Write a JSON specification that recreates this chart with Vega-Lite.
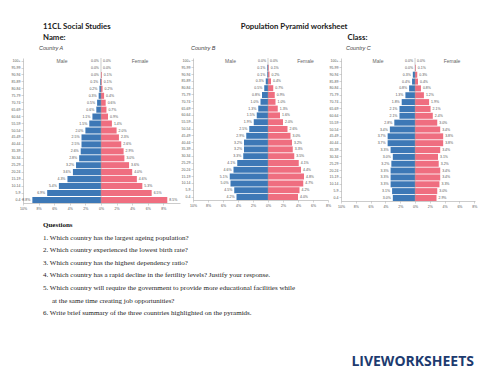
{
  "$schema": "https://vega.github.io/schema/vega-lite/v6.json",
  "background": "white",
  "padding": {"left": 11, "top": 0, "right": 0, "bottom": 0},
  "config": {
    "view": {"stroke": null},
    "axisY": {"minExtent": 0},
    "axisX": {"minExtent": 0, "labelOverlap": false, "labelFlush": false, "tickCount": 12}
  },
  "datasets": {
    "pyrA": [
      {"age":"0-4","sex":"Male","pct":8.8},{"age":"5-9","sex":"Male","pct":6.9},{"age":"10-14","sex":"Male","pct":5.4},{"age":"15-19","sex":"Male","pct":4.3},{"age":"20-24","sex":"Male","pct":3.6},{"age":"25-29","sex":"Male","pct":3.2},{"age":"30-34","sex":"Male","pct":2.8},{"age":"35-39","sex":"Male","pct":2.6},{"age":"40-44","sex":"Male","pct":2.5},{"age":"45-49","sex":"Male","pct":2.5},{"age":"50-54","sex":"Male","pct":2.0},{"age":"55-59","sex":"Male","pct":1.5},{"age":"60-64","sex":"Male","pct":1.1},{"age":"65-69","sex":"Male","pct":0.6},{"age":"70-74","sex":"Male","pct":0.5},{"age":"75-79","sex":"Male","pct":0.3},{"age":"80-84","sex":"Male","pct":0.2},{"age":"85-89","sex":"Male","pct":0.1},{"age":"90-94","sex":"Male","pct":0.0},{"age":"95-99","sex":"Male","pct":0.0},{"age":"100+","sex":"Male","pct":0.0},
      {"age":"0-4","sex":"Female","pct":8.5},{"age":"5-9","sex":"Female","pct":6.5},{"age":"10-14","sex":"Female","pct":5.3},{"age":"15-19","sex":"Female","pct":4.6},{"age":"20-24","sex":"Female","pct":4.0},{"age":"25-29","sex":"Female","pct":3.6},{"age":"30-34","sex":"Female","pct":3.0},{"age":"35-39","sex":"Female","pct":2.9},{"age":"40-44","sex":"Female","pct":2.6},{"age":"45-49","sex":"Female","pct":2.3},{"age":"50-54","sex":"Female","pct":2.0},{"age":"55-59","sex":"Female","pct":1.4},{"age":"60-64","sex":"Female","pct":0.9},{"age":"65-69","sex":"Female","pct":0.7},{"age":"70-74","sex":"Female","pct":0.6},{"age":"75-79","sex":"Female","pct":0.4},{"age":"80-84","sex":"Female","pct":0.2},{"age":"85-89","sex":"Female","pct":0.1},{"age":"90-94","sex":"Female","pct":0.1},{"age":"95-99","sex":"Female","pct":0.0},{"age":"100+","sex":"Female","pct":0.0}
    ],
    "pyrB": [
      {"age":"0-4","sex":"Male","pct":4.2},{"age":"5-9","sex":"Male","pct":4.5},{"age":"10-14","sex":"Male","pct":5.0},{"age":"15-19","sex":"Male","pct":5.1},{"age":"20-24","sex":"Male","pct":4.6},{"age":"25-29","sex":"Male","pct":4.1},{"age":"30-34","sex":"Male","pct":3.3},{"age":"35-39","sex":"Male","pct":3.2},{"age":"40-44","sex":"Male","pct":3.2},{"age":"45-49","sex":"Male","pct":2.9},{"age":"50-54","sex":"Male","pct":2.5},{"age":"55-59","sex":"Male","pct":1.9},{"age":"60-64","sex":"Male","pct":1.5},{"age":"65-69","sex":"Male","pct":1.3},{"age":"70-74","sex":"Male","pct":1.0},{"age":"75-79","sex":"Male","pct":0.8},{"age":"80-84","sex":"Male","pct":0.5},{"age":"85-89","sex":"Male","pct":0.3},{"age":"90-94","sex":"Male","pct":0.1},{"age":"95-99","sex":"Male","pct":0.1},{"age":"100+","sex":"Male","pct":0.0},
      {"age":"0-4","sex":"Female","pct":4.0},{"age":"5-9","sex":"Female","pct":4.2},{"age":"10-14","sex":"Female","pct":4.7},{"age":"15-19","sex":"Female","pct":4.8},{"age":"20-24","sex":"Female","pct":4.4},{"age":"25-29","sex":"Female","pct":4.1},{"age":"30-34","sex":"Female","pct":3.5},{"age":"35-39","sex":"Female","pct":3.3},{"age":"40-44","sex":"Female","pct":3.2},{"age":"45-49","sex":"Female","pct":3.0},{"age":"50-54","sex":"Female","pct":2.6},{"age":"55-59","sex":"Female","pct":2.0},{"age":"60-64","sex":"Female","pct":1.6},{"age":"65-69","sex":"Female","pct":1.3},{"age":"70-74","sex":"Female","pct":1.0},{"age":"75-79","sex":"Female","pct":0.9},{"age":"80-84","sex":"Female","pct":0.7},{"age":"85-89","sex":"Female","pct":0.4},{"age":"90-94","sex":"Female","pct":0.2},{"age":"95-99","sex":"Female","pct":0.1},{"age":"100+","sex":"Female","pct":0.0}
    ],
    "pyrC": [
      {"age":"0-4","sex":"Male","pct":3.0},{"age":"5-9","sex":"Male","pct":3.1},{"age":"10-14","sex":"Male","pct":3.3},{"age":"15-19","sex":"Male","pct":3.3},{"age":"20-24","sex":"Male","pct":3.3},{"age":"25-29","sex":"Male","pct":3.2},{"age":"30-34","sex":"Male","pct":3.0},{"age":"35-39","sex":"Male","pct":3.3},{"age":"40-44","sex":"Male","pct":3.7},{"age":"45-49","sex":"Male","pct":3.7},{"age":"50-54","sex":"Male","pct":3.4},{"age":"55-59","sex":"Male","pct":2.8},{"age":"60-64","sex":"Male","pct":2.1},{"age":"65-69","sex":"Male","pct":2.1},{"age":"70-74","sex":"Male","pct":1.8},{"age":"75-79","sex":"Male","pct":1.3},{"age":"80-84","sex":"Male","pct":0.8},{"age":"85-89","sex":"Male","pct":0.4},{"age":"90-94","sex":"Male","pct":0.3},{"age":"95-99","sex":"Male","pct":0.0},{"age":"100+","sex":"Male","pct":0.0},
      {"age":"0-4","sex":"Female","pct":2.9},{"age":"5-9","sex":"Female","pct":3.0},{"age":"10-14","sex":"Female","pct":3.3},{"age":"15-19","sex":"Female","pct":3.4},{"age":"20-24","sex":"Female","pct":3.4},{"age":"25-29","sex":"Female","pct":3.2},{"age":"30-34","sex":"Female","pct":3.1},{"age":"35-39","sex":"Female","pct":3.4},{"age":"40-44","sex":"Female","pct":3.8},{"age":"45-49","sex":"Female","pct":3.8},{"age":"50-54","sex":"Female","pct":3.4},{"age":"55-59","sex":"Female","pct":3.0},{"age":"60-64","sex":"Female","pct":2.4},{"age":"65-69","sex":"Female","pct":2.1},{"age":"70-74","sex":"Female","pct":1.9},{"age":"75-79","sex":"Female","pct":1.2},{"age":"80-84","sex":"Female","pct":0.8},{"age":"85-89","sex":"Female","pct":0.4},{"age":"90-94","sex":"Female","pct":0.3},{"age":"95-99","sex":"Female","pct":0.1},{"age":"100+","sex":"Female","pct":0.0}
    ]
  },
  "vconcat": [
    {
      "width": 456, "height": 45.5,
      "layer": [
        {
          "data": {"values": [
            {"slot":"left","line":"1","text":"11CL Social Studies"},
            {"slot":"left","line":"2","text":"Name:"},
            {"slot":"right","line":"2","text":"Class:"}
          ]},
          "mark": {"type":"text","align":"left","baseline":"middle","font":"Lato","fontSize":7.8,"fontWeight":"bold","color":"#1a1a1a"},
          "encoding": {
            "x": {"field":"slot","type":"nominal","scale":{"type":"point","domain":["left","right"],"range":[20,324.5],"padding":0},"axis":null},
            "y": {"field":"line","type":"nominal","scale":{"type":"point","domain":["1","2"],"range":[27,37.5],"padding":0},"axis":null},
            "text": {"field":"text"}
          }
        },
        {
          "data": {"values": [{"slot":"right","line":"1","text":"Population Pyramid worksheet"}]},
          "mark": {"type":"text","align":"right","baseline":"middle","font":"Lato","fontSize":7.8,"fontWeight":"bold","color":"#1a1a1a"},
          "encoding": {
            "x": {"field":"slot","type":"nominal","scale":{"type":"point","domain":["left","right"],"range":[20,324.5],"padding":0},"axis":null},
            "y": {"field":"line","type":"nominal","scale":{"type":"point","domain":["1","2"],"range":[27,37.5],"padding":0},"axis":null},
            "text": {"field":"text"}
          }
        }
      ]
    },
    {
      "hconcat": [
        {
          "width": 157, "height": 145,
          "title": {"text":"Country A","anchor":"start","frame":"group","dx":16,"offset":6,"fontSize":5.5,"fontStyle":"italic","fontWeight":"normal","color":"#444","font":"Liberation Sans"},
          "data": {"name":"pyrA"},
          "transform": [
            {"calculate":"datum.sex === 'Male' ? -datum.pct : datum.pct","as":"signed"},
            {"calculate":"format(datum.pct, '.1f') + '%'","as":"label"}
          ],
          "layer": [
            {
              "mark": {"type":"bar"},
              "encoding": {
                "y": {"field":"age","type":"ordinal","scale":{"domain":["100+","95-99","90-94","85-89","80-84","75-79","70-74","65-69","60-64","55-59","50-54","45-49","40-44","35-39","30-34","25-29","20-24","15-19","10-14","5-9","0-4"],"paddingInner":0.12,"paddingOuter":0},"axis":{"title":null,"labelFontSize":3.5,"labelColor":"#555","labelFont":"Liberation Sans","tickSize":2,"labelPadding":1,"tickColor":"#aaa","domainColor":"#999","domainWidth":0.5,"tickWidth":0.5}},
                "x": {"field":"signed","type":"quantitative","scale":{"domain":[-10,10.13],"nice":false},"axis":{"title":null,"values":[-10,-8,-6,-4,-2,0,2,4,6,8],"tickCount":12,"labelExpr":"abs(datum.value) + '%'","labelOverlap":false,"labelFlush":false,"labelFontSize":3.5,"labelColor":"#555","labelFont":"Liberation Sans","tickSize":2,"labelPadding":1,"tickColor":"#aaa","domainColor":"#999","domainWidth":0.5,"tickWidth":0.5,"grid":false}},
                "color": {"field":"sex","type":"nominal","scale":{"domain":["Male","Female"],"range":["#3d78b6","#ef6e80"]},"legend":null}
              }
            },
            {
              "transform": [{"filter":"datum.sex === 'Male'"}],
              "mark": {"type":"text","align":"right","baseline":"middle","dx":-2,"fontSize":3.5,"color":"#555","font":"Liberation Sans"},
              "encoding": {"y": {"field":"age","type":"ordinal"},"x": {"field":"signed","type":"quantitative"},"text": {"field":"label"}}
            },
            {
              "transform": [{"filter":"datum.sex === 'Female'"}],
              "mark": {"type":"text","align":"left","baseline":"middle","dx":2,"fontSize":3.5,"color":"#555","font":"Liberation Sans"},
              "encoding": {"y": {"field":"age","type":"ordinal"},"x": {"field":"signed","type":"quantitative"},"text": {"field":"label"}}
            },
            {
              "data": {"values":[{}]},
              "mark": {"type":"rule","color":"#999","strokeWidth":0.5},
              "encoding": {"x": {"datum":0,"type":"quantitative"}}
            },
            {
              "data": {"values":[{}]},
              "mark": {"type":"text","fontSize":5,"color":"#666","font":"Liberation Sans","baseline":"middle"},
              "encoding": {"x": {"datum":-5,"type":"quantitative"},"y": {"datum":"100+","type":"ordinal"},"text": {"value":"Male"}}
            },
            {
              "data": {"values":[{}]},
              "mark": {"type":"text","fontSize":5,"color":"#666","font":"Liberation Sans","baseline":"middle"},
              "encoding": {"x": {"datum":5,"type":"quantitative"},"y": {"datum":"100+","type":"ordinal"},"text": {"value":"Female"}}
            }
          ]
        },
        {
          "width": 135, "height": 142,
          "title": {"text":"Country B","anchor":"start","frame":"group","dx":-2,"offset":6,"fontSize":5.5,"fontStyle":"italic","fontWeight":"normal","color":"#444","font":"Liberation Sans"},
          "data": {"name":"pyrB"},
          "transform": [
            {"calculate":"datum.sex === 'Male' ? -datum.pct : datum.pct","as":"signed"},
            {"calculate":"format(datum.pct, '.1f') + '%'","as":"label"}
          ],
          "layer": [
            {
              "mark": {"type":"bar"},
              "encoding": {
                "y": {"field":"age","type":"ordinal","scale":{"domain":["100+","95-99","90-94","85-89","80-84","75-79","70-74","65-69","60-64","55-59","50-54","45-49","40-44","35-39","30-34","25-29","20-24","15-19","10-14","5-9","0-4"],"paddingInner":0.12,"paddingOuter":0},"axis":{"title":null,"labelFontSize":3.5,"labelColor":"#555","labelFont":"Liberation Sans","tickSize":2,"labelPadding":1,"tickColor":"#aaa","domainColor":"#999","domainWidth":0.5,"tickWidth":0.5}},
                "x": {"field":"signed","type":"quantitative","scale":{"domain":[-10,8],"nice":false},"axis":{"title":null,"values":[-10,-8,-6,-4,-2,0,2,4,6,8],"tickCount":12,"labelExpr":"abs(datum.value) + '%'","labelOverlap":false,"labelFlush":false,"labelFontSize":3.5,"labelColor":"#555","labelFont":"Liberation Sans","tickSize":2,"labelPadding":1,"tickColor":"#aaa","domainColor":"#999","domainWidth":0.5,"tickWidth":0.5,"grid":false}},
                "color": {"field":"sex","type":"nominal","scale":{"domain":["Male","Female"],"range":["#3d78b6","#ef6e80"]},"legend":null}
              }
            },
            {
              "transform": [{"filter":"datum.sex === 'Male'"}],
              "mark": {"type":"text","align":"right","baseline":"middle","dx":-2,"fontSize":3.5,"color":"#555","font":"Liberation Sans"},
              "encoding": {"y": {"field":"age","type":"ordinal"},"x": {"field":"signed","type":"quantitative"},"text": {"field":"label"}}
            },
            {
              "transform": [{"filter":"datum.sex === 'Female'"}],
              "mark": {"type":"text","align":"left","baseline":"middle","dx":2,"fontSize":3.5,"color":"#555","font":"Liberation Sans"},
              "encoding": {"y": {"field":"age","type":"ordinal"},"x": {"field":"signed","type":"quantitative"},"text": {"field":"label"}}
            },
            {
              "data": {"values":[{}]},
              "mark": {"type":"rule","color":"#999","strokeWidth":0.5},
              "encoding": {"x": {"datum":0,"type":"quantitative"}}
            },
            {
              "data": {"values":[{}]},
              "mark": {"type":"text","fontSize":5,"color":"#666","font":"Liberation Sans","baseline":"middle"},
              "encoding": {"x": {"datum":-5,"type":"quantitative"},"y": {"datum":"100+","type":"ordinal"},"text": {"value":"Male"}}
            },
            {
              "data": {"values":[{}]},
              "mark": {"type":"text","fontSize":5,"color":"#666","font":"Liberation Sans","baseline":"middle"},
              "encoding": {"x": {"datum":5,"type":"quantitative"},"y": {"datum":"100+","type":"ordinal"},"text": {"value":"Female"}}
            }
          ]
        },
        {
          "width": 134, "height": 143,
          "title": {"text":"Country C","anchor":"start","frame":"group","dx":5,"offset":6,"fontSize":5.5,"fontStyle":"italic","fontWeight":"normal","color":"#444","font":"Liberation Sans"},
          "data": {"name":"pyrC"},
          "transform": [
            {"calculate":"datum.sex === 'Male' ? -datum.pct : datum.pct","as":"signed"},
            {"calculate":"format(datum.pct, '.1f') + '%'","as":"label"}
          ],
          "layer": [
            {
              "mark": {"type":"bar"},
              "encoding": {
                "y": {"field":"age","type":"ordinal","scale":{"domain":["100+","95-99","90-94","85-89","80-84","75-79","70-74","65-69","60-64","55-59","50-54","45-49","40-44","35-39","30-34","25-29","20-24","15-19","10-14","5-9","0-4"],"paddingInner":0.12,"paddingOuter":0},"axis":{"title":null,"labelFontSize":3.5,"labelColor":"#555","labelFont":"Liberation Sans","tickSize":2,"labelPadding":1,"tickColor":"#aaa","domainColor":"#999","domainWidth":0.5,"tickWidth":0.5}},
                "x": {"field":"signed","type":"quantitative","scale":{"domain":[-10,8.1],"nice":false},"axis":{"title":null,"values":[-10,-8,-6,-4,-2,0,2,4,6,8],"tickCount":12,"labelExpr":"abs(datum.value) + '%'","labelOverlap":false,"labelFlush":false,"labelFontSize":3.5,"labelColor":"#555","labelFont":"Liberation Sans","tickSize":2,"labelPadding":1,"tickColor":"#aaa","domainColor":"#999","domainWidth":0.5,"tickWidth":0.5,"grid":false}},
                "color": {"field":"sex","type":"nominal","scale":{"domain":["Male","Female"],"range":["#3d78b6","#ef6e80"]},"legend":null}
              }
            },
            {
              "transform": [{"filter":"datum.sex === 'Male'"}],
              "mark": {"type":"text","align":"right","baseline":"middle","dx":-2,"fontSize":3.5,"color":"#555","font":"Liberation Sans"},
              "encoding": {"y": {"field":"age","type":"ordinal"},"x": {"field":"signed","type":"quantitative"},"text": {"field":"label"}}
            },
            {
              "transform": [{"filter":"datum.sex === 'Female'"}],
              "mark": {"type":"text","align":"left","baseline":"middle","dx":2,"fontSize":3.5,"color":"#555","font":"Liberation Sans"},
              "encoding": {"y": {"field":"age","type":"ordinal"},"x": {"field":"signed","type":"quantitative"},"text": {"field":"label"}}
            },
            {
              "data": {"values":[{}]},
              "mark": {"type":"rule","color":"#999","strokeWidth":0.5},
              "encoding": {"x": {"datum":0,"type":"quantitative"}}
            },
            {
              "data": {"values":[{}]},
              "mark": {"type":"text","fontSize":5,"color":"#666","font":"Liberation Sans","baseline":"middle"},
              "encoding": {"x": {"datum":-5,"type":"quantitative"},"y": {"datum":"100+","type":"ordinal"},"text": {"value":"Male"}}
            },
            {
              "data": {"values":[{}]},
              "mark": {"type":"text","fontSize":5,"color":"#666","font":"Liberation Sans","baseline":"middle"},
              "encoding": {"x": {"datum":5,"type":"quantitative"},"y": {"datum":"100+","type":"ordinal"},"text": {"value":"Female"}}
            }
          ]
        }
      ],
      "spacing": 13, "bounds": "flush", "align": "none"
    },
    {
      "width": 456, "height": 148.5,
      "title": {"text":"LIVEWORKSHEETS","orient":"bottom","anchor":"end","font":"Open Sans","fontSize":14,"fontWeight":"bold","color":"#1d3b6f","offset":-4,"dx":-5},
      "layer": [
        {
          "data": {"values":[{"text":"Questions"}]},
          "mark": {"type":"text","align":"left","baseline":"middle","font":"Liberation Serif","fontSize":7,"fontWeight":"bold","color":"#111"},
          "encoding": {
            "x": {"datum":"0","type":"nominal","scale":{"type":"point","domain":["0","1"],"range":[20,29],"padding":0},"axis":null},
            "y": {"datum":"q","type":"nominal","scale":{"type":"point","domain":["q","1","2","3","4","5","5b","6"],"range":[15,103.2],"padding":0},"axis":null},
            "text": {"field":"text"}
          }
        },
        {
          "data": {"values":[
            {"line":"1","indent":"0","text":"1. Which country has the largest ageing population?"},
            {"line":"2","indent":"0","text":"2. Which country experienced the lowest birth rate?"},
            {"line":"3","indent":"0","text":"3. Which country has the highest dependency ratio?"},
            {"line":"4","indent":"0","text":"4. Which country has a rapid decline in the fertility levels? Justify your response."},
            {"line":"5","indent":"0","text":"5. Which country will require the government to provide more educational facilities while"},
            {"line":"5b","indent":"1","text":"at the same time creating job opportunities?"},
            {"line":"6","indent":"0","text":"6. Write brief summary of the three countries highlighted on the pyramids."}
          ]},
          "mark": {"type":"text","align":"left","baseline":"middle","font":"Liberation Serif","fontSize":7,"color":"#222"},
          "encoding": {
            "x": {"field":"indent","type":"nominal","scale":{"type":"point","domain":["0","1"],"range":[20,29],"padding":0},"axis":null},
            "y": {"field":"line","type":"nominal","scale":{"type":"point","domain":["q","1","2","3","4","5","5b","6"],"range":[15,103.2],"padding":0},"axis":null},
            "text": {"field":"text"}
          }
        }
      ]
    }
  ],
  "spacing": 0, "align": "none"
}
